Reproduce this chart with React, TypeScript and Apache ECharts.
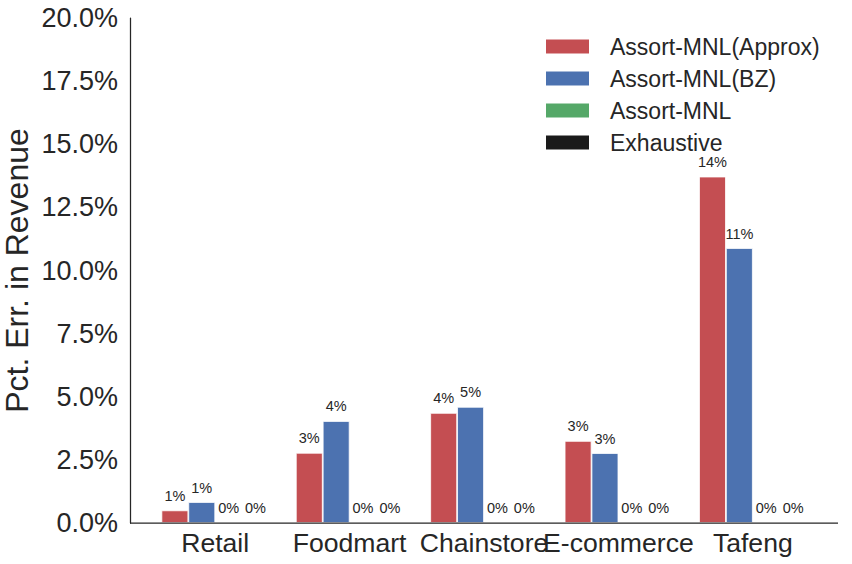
import React, { useEffect, useRef } from "react";
import * as echarts from "echarts";

const categories = ["Retail", "Foodmart", "Chainstore", "E-commerce", "Tafeng"];
const seriesNames = ["Assort-MNL(Approx)", "Assort-MNL(BZ)", "Assort-MNL", "Exhaustive"];
const approxValues = [0.005, 0.0278, 0.0436, 0.0325, 0.1372];
const bzValues = [0.0083, 0.0404, 0.046, 0.0277, 0.1089];
const mnlValues = [0, 0, 0, 0, 0];
const exhaustiveValues = [0, 0, 0, 0, 0];
const yTicks = [0, 0.025, 0.05, 0.075, 0.1, 0.125, 0.15, 0.175, 0.2];

const colors = ["#c44e52", "#4c72b0", "#55a868", "#1a1a1a"];
const FONT = "'Liberation Sans', Arial, sans-serif";
const TEXT = "#262626";

export default function App() {
  const ref = useRef<HTMLDivElement>(null);
  useEffect(() => {
    if (!ref.current) return;
    const chart = echarts.init(ref.current, undefined, { renderer: "svg" });
    const allValues = [approxValues, bzValues, mnlValues, exhaustiveValues];
    chart.setOption({
      animation: false,
      backgroundColor: "#ffffff",
      textStyle: { fontFamily: FONT },
      grid: { left: 148, right: 32, top: 18, bottom: 41, containLabel: false, outerBoundsMode: "none" },
      legend: {
        orient: "vertical",
        left: 539,
        top: 30,
        itemWidth: 45,
        itemHeight: 16,
        itemGap: 9,
        icon: "rect",
        textStyle: { fontSize: 23, color: TEXT, fontFamily: FONT, lineHeight: 23, padding: [0, 0, 0, 15] },
        data: seriesNames,
      },
      xAxis: {
        type: "category",
        data: categories,
        axisLine: { show: false },
        axisTick: { show: false },
        axisLabel: { interval: 0, fontSize: 26.6, color: TEXT, fontFamily: FONT, margin: 6 },
      },
      yAxis: {
        type: "value",
        min: yTicks[0],
        max: yTicks[yTicks.length - 1],
        interval: 0.025,
        offset: 18,
        name: "Pct. Err. in Revenue",
        nameLocation: "middle",
        nameGap: 97,
        nameMoveOverlap: false,
        nameTextStyle: { fontSize: 32, color: TEXT, fontFamily: FONT, lineHeight: 32 },
        axisLine: { show: true, lineStyle: { color: TEXT, width: 1.25 } },
        axisTick: { show: false },
        splitLine: { show: false },
        axisLabel: {
          fontSize: 27,
          color: TEXT,
          fontFamily: FONT,
          margin: 12,
          formatter: (v: number) => (v * 100).toFixed(1) + "%",
        },
      },
      graphic: [
        {
          type: "line",
          z: 100,
          shape: { x1: 130, y1: 523, x2: 838, y2: 523 },
          style: { stroke: TEXT, lineWidth: 1.25 },
        },
      ],
      series: seriesNames.map((name, i) => ({
        name,
        type: "bar",
        data: allValues[i],
        barGap: "0%",
        barCategoryGap: "20%",
        itemStyle: { color: colors[i], borderColor: "#ffffff", borderWidth: 0.8 },
        label: {
          show: true,
          position: "top",
          distance: 7,
          fontSize: 14.5,
          color: TEXT,
          fontFamily: FONT,
          formatter: (p: any) => Math.round(p.value * 100) + "%",
        },
      })),
    });
    return () => chart.dispose();
  }, []);
  return <div ref={ref} style={{ width: 852, height: 564, position: "absolute", left: 0, top: 0 }} />;
}
